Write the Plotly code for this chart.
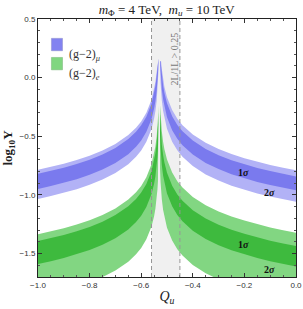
import plotly.graph_objects as go

# ---- data ----
q_left = [-1.0, -0.95, -0.9, -0.85, -0.8, -0.75, -0.7, -0.65, -0.62, -0.6, -0.58, -0.56,
          -0.55, -0.545, -0.54, -0.537, -0.535, -0.533]
q_right = [-0.527, -0.525, -0.523, -0.52, -0.515, -0.51, -0.5, -0.48, -0.46, -0.44, -0.4,
           -0.35, -0.3, -0.25, -0.2, -0.15, -0.1, -0.05, 0.0]

# muon, left branch
mu_L_up2 = [-0.786, -0.762, -0.734, -0.703, -0.666, -0.621, -0.565, -0.49, -0.427, -0.373, -0.299, -0.189, -0.101, -0.038, 0.05, 0.127, 0.16, 0.16]
mu_L_up1 = [-0.82, -0.796, -0.768, -0.737, -0.70, -0.655, -0.599, -0.524, -0.461, -0.407, -0.333, -0.223, -0.135, -0.072, 0.016, 0.093, 0.16, 0.16]
mu_L_lo1 = [-0.949, -0.925, -0.897, -0.866, -0.829, -0.784, -0.728, -0.653, -0.59, -0.536, -0.462, -0.352, -0.264, -0.201, -0.113, -0.036, 0.038, 0.148]
mu_L_lo2 = [-1.034, -1.01, -0.982, -0.951, -0.914, -0.869, -0.813, -0.738, -0.675, -0.621, -0.547, -0.437, -0.349, -0.286, -0.198, -0.121, -0.047, 0.063]
# muon, right branch
mu_R_up2 = [0.14, 0.14, 0.14, 0.072, -0.016, -0.079, -0.167, -0.277, -0.351, -0.405, -0.485, -0.556, -0.609, -0.652, -0.687, -0.718, -0.745, -0.769, -0.79]
mu_R_up1 = [0.14, 0.14, 0.097, 0.02, -0.068, -0.131, -0.219, -0.329, -0.403, -0.457, -0.537, -0.608, -0.661, -0.704, -0.739, -0.77, -0.797, -0.821, -0.842]
mu_R_lo1 = [0.14, 0.052, -0.022, -0.099, -0.187, -0.25, -0.338, -0.448, -0.522, -0.576, -0.656, -0.727, -0.78, -0.823, -0.858, -0.889, -0.916, -0.94, -0.961]
mu_R_lo2 = [0.064, -0.046, -0.12, -0.197, -0.285, -0.348, -0.436, -0.546, -0.62, -0.674, -0.754, -0.825, -0.878, -0.921, -0.956, -0.987, -1.014, -1.038, -1.059]

# electron, left branch
e_L_up2 = [-1.336, -1.312, -1.284, -1.253, -1.216, -1.171, -1.115, -1.04, -0.977, -0.923, -0.849, -0.739, -0.651, -0.588, -0.5, -0.423, -0.349, -0.239]
e_L_up1 = [-1.393, -1.369, -1.341, -1.31, -1.273, -1.228, -1.172, -1.097, -1.034, -0.98, -0.906, -0.796, -0.708, -0.645, -0.557, -0.48, -0.406, -0.296]
e_L_lo1 = [-1.59, -1.566, -1.538, -1.507, -1.47, -1.425, -1.369, -1.294, -1.231, -1.177, -1.103, -0.993, -0.905, -0.842, -0.754, -0.677, -0.603, -0.493]
e_L_lo2 = [-1.866, -1.842, -1.814, -1.783, -1.746, -1.701, -1.645, -1.57, -1.507, -1.453, -1.379, -1.269, -1.181, -1.118, -1.03, -0.953, -0.879, -0.769]
# electron, right branch
e_R_up2 = [-0.235, -0.309, -0.383, -0.46, -0.548, -0.611, -0.699, -0.809, -0.883, -0.937, -1.017, -1.088, -1.141, -1.184, -1.219, -1.25, -1.277, -1.301, -1.322]
e_R_up1 = [-0.312, -0.422, -0.496, -0.573, -0.661, -0.724, -0.812, -0.922, -0.996, -1.05, -1.13, -1.201, -1.254, -1.297, -1.332, -1.363, -1.39, -1.414, -1.435]
e_R_lo1 = [-0.487, -0.597, -0.671, -0.748, -0.836, -0.899, -0.987, -1.097, -1.171, -1.225, -1.305, -1.376, -1.429, -1.472, -1.507, -1.538, -1.565, -1.589, -1.61]
e_R_lo2 = [-0.779, -0.889, -0.963, -1.04, -1.128, -1.191, -1.279, -1.389, -1.463, -1.517, -1.597, -1.668, -1.721, -1.764, -1.799, -1.83, -1.857, -1.881, -1.902]

excluded_q = [-0.56, -0.45]   # 2L/1L > 0.25 region
x_ticks = [-1.0, -0.8, -0.6, -0.4, -0.2, 0.0]
y_ticks = [-1.5, -1.0, -0.5, 0.0, 0.5]

MU_LIGHT = "rgb(178,178,246)"
MU_DARK = "rgb(122,122,238)"
E_LIGHT = "rgb(130,214,130)"
E_DARK = "rgb(62,186,62)"

fig = go.Figure()

def band(q, up, lo, color):
    fig.add_trace(go.Scatter(x=q + q[::-1], y=up + lo[::-1], fill="toself",
                             fillcolor=color, line=dict(width=0), mode="lines",
                             hoverinfo="skip", showlegend=False))

band(q_left, mu_L_up2, mu_L_lo2, MU_LIGHT)
band(q_right, mu_R_up2, mu_R_lo2, MU_LIGHT)
band(q_left, mu_L_up1, mu_L_lo1, MU_DARK)
band(q_right, mu_R_up1, mu_R_lo1, MU_DARK)
band(q_left, e_L_up2, e_L_lo2, E_LIGHT)
band(q_right, e_R_up2, e_R_lo2, E_LIGHT)
band(q_left, e_L_up1, e_L_lo1, E_DARK)
band(q_right, e_R_up1, e_R_lo1, E_DARK)

# grey excluded band + dashed borders
fig.add_shape(type="rect", x0=excluded_q[0], x1=excluded_q[1], y0=0, y1=1,
              xref="x", yref="y domain", fillcolor="rgb(240,240,240)",
              line=dict(width=0), layer="below")
for xq in excluded_q:
    fig.add_shape(type="line", x0=xq, x1=xq, y0=0, y1=1, xref="x", yref="y domain",
                  line=dict(color="rgb(150,150,150)", width=1, dash="4px,3px"), layer="above")

# legend swatches
fig.add_shape(type="rect", xref="x domain", yref="y domain", x0=0.052, x1=0.095,
              y0=0.877, y1=0.925, fillcolor="rgb(130,130,240)", line=dict(width=0.5, color="rgb(140,140,200)"))
fig.add_shape(type="rect", xref="x domain", yref="y domain", x0=0.052, x1=0.095,
              y0=0.803, y1=0.851, fillcolor="rgb(128,214,128)", line=dict(width=0.5, color="rgb(120,180,120)"))

serif = "Liberation Serif"
fig.add_annotation(xref="x domain", yref="y domain", x=0.112, y=0.901, xanchor="left",
                   text="(g−2)<sub><i>μ</i></sub>", showarrow=False,
                   font=dict(family=serif, size=12, color="#333"))
fig.add_annotation(xref="x domain", yref="y domain", x=0.112, y=0.827, xanchor="left",
                   text="(g−2)<sub><i>e</i></sub>", showarrow=False,
                   font=dict(family=serif, size=12, color="#333"))

# sigma labels
sig_font = dict(family=serif, size=10, color="#111")
fig.add_annotation(x=-0.205, y=-0.808, text="<b>1<i>σ</i></b>", showarrow=False, font=sig_font)
fig.add_annotation(x=-0.101, y=-0.978, text="<b>2<i>σ</i></b>", showarrow=False, font=sig_font)
fig.add_annotation(x=-0.205, y=-1.427, text="<b>1<i>σ</i></b>", showarrow=False, font=sig_font)
fig.add_annotation(x=-0.101, y=-1.64, text="<b>2<i>σ</i></b>", showarrow=False, font=sig_font)

# rotated label in grey band
fig.add_annotation(x=-0.47, y=0.16, text="2L/1L > 0.25", textangle=-90, showarrow=False,
                   font=dict(family=serif, size=10, color="rgb(120,120,120)"))

tick_font = dict(family="Liberation Sans", size=8, color="#333")
fig.update_xaxes(range=[-1.0, 0.0], tickvals=x_ticks, ticktext=[f"{v:.1f}".replace("-", "−") for v in x_ticks],
                 ticks="inside", ticklen=4, tickcolor="#333", mirror="ticks", showline=True,
                 linecolor="#222", linewidth=1, showgrid=False, zeroline=False, automargin=False,
                 minor=dict(dtick=0.05, ticks="inside", ticklen=2, tickcolor="#555"),
                 tickfont=tick_font,
                 title=dict(text="<i>Q<sub>u</sub></i>", font=dict(family=serif, size=14, color="#222"), standoff=2))
fig.update_yaxes(range=[-1.7, 0.5], tickvals=y_ticks, ticktext=[f"{v:.1f}".replace("-", "−") for v in y_ticks],
                 ticks="inside", ticklen=4, tickcolor="#333", mirror="ticks", showline=True,
                 linecolor="#222", linewidth=1, showgrid=False, zeroline=False, automargin=False,
                 minor=dict(dtick=0.1, ticks="inside", ticklen=2, tickcolor="#555"),
                 tickfont=tick_font,
                 title=dict(text="<b>log<sub>10</sub>Y</b>", font=dict(family=serif, size=13, color="#222"), standoff=4))

fig.update_layout(
    width=303, height=309,
    margin=dict(l=38, r=7, t=19, b=32),
    paper_bgcolor="white", plot_bgcolor="white",
    showlegend=False,
    title=dict(text="<i>m</i><sub>Φ</sub> = 4 TeV,  <i>m</i><sub><i>u</i></sub> = 10 TeV",
               x=0.55, xanchor="center", y=0.985, yanchor="top",
               font=dict(family=serif, size=13, color="#222")),
)

fig.write_html("out.html", config={"displayModeBar": False},
               post_script="document.body.style.margin='0';document.body.style.padding='0';")
